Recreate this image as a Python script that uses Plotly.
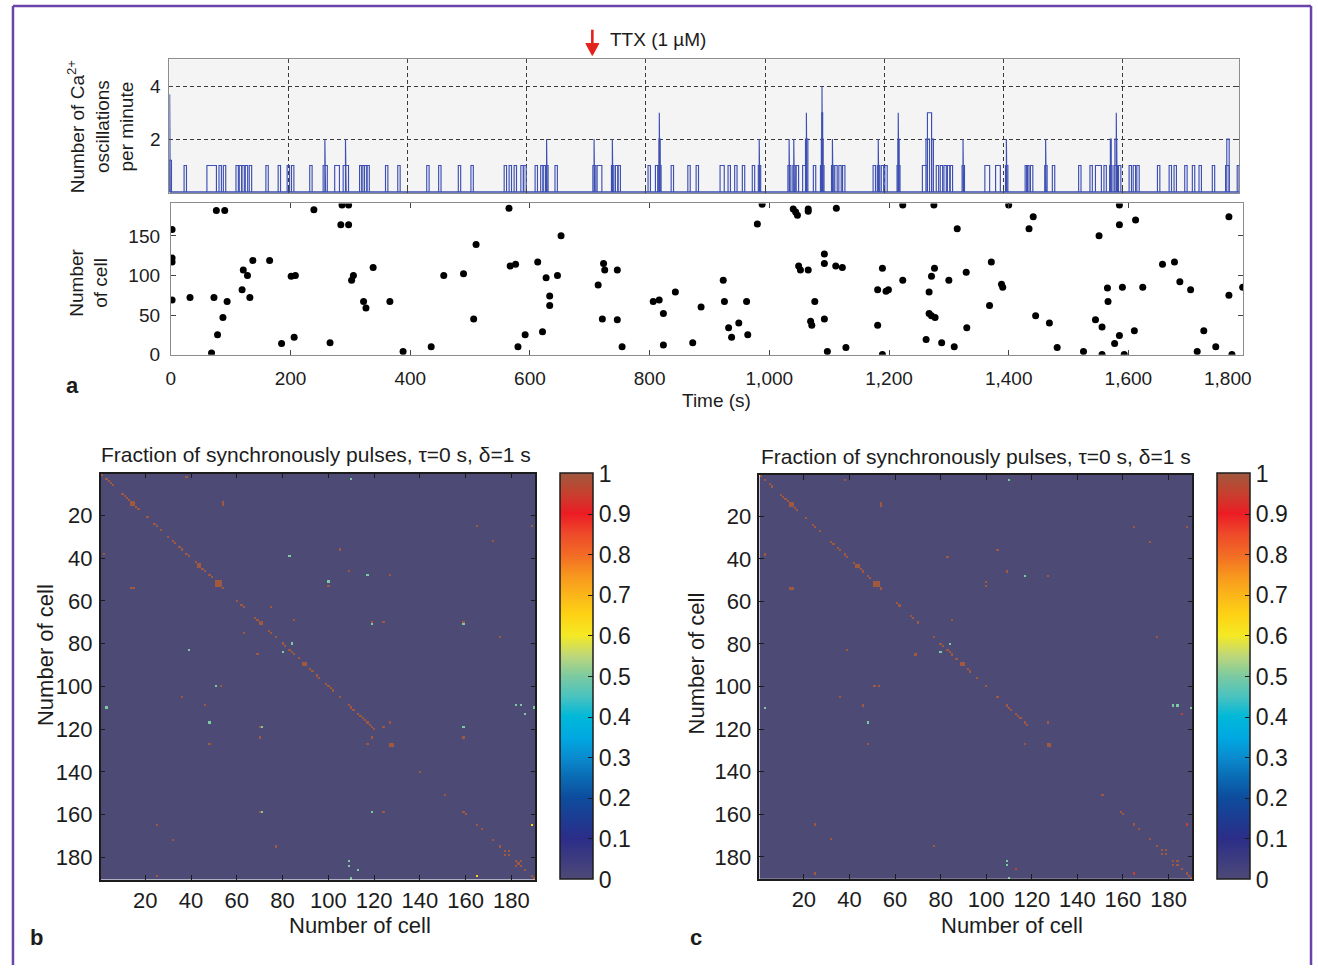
import numpy as np
import plotly.graph_objects as go

W, H = 1318, 972
FONT = "Liberation Sans, Arial, sans-serif"
INK = "#1c1c1c"

# ---------------- DATA ----------------
# Panel a (top): oscillation-rate trace as pulses: (centre time s, height, width s)
rate_pulses = [
    (1, 3.7, 1.0), (1.5, 1.2, 4),
    (26.7, 1, 4), (71, 1, 16), (85.3, 1, 4), (92.6, 1, 4),
    (113.8, 1, 4), (119.3, 1, 4), (123.8, 1, 4), (129.4, 1, 4), (136.1, 1, 4),
    (164, 1, 4), (184.6, 1, 4), (199.7, 1, 4), (207, 1, 4), (237.6, 1, 4),
    (261.6, 1, 7), (261.6, 2, 1.2), (281.5, 1, 8), (296.2, 1, 9), (296.2, 2, 1.2),
    (321.3, 1, 4), (325, 1, 4), (329.6, 1, 4), (333.6, 1, 4),
    (364.8, 1, 4), (385.4, 1, 4), (434, 1, 4), (454, 1, 4), (487, 1, 4), (508.2, 1, 4),
    (564, 1, 4), (572.3, 1, 4), (580.7, 1, 4), (592, 1, 4), (597, 1, 4),
    (615.9, 1, 4), (625.3, 1, 4), (629.2, 1, 4), (633.7, 1, 4), (633.7, 2, 1), (649.3, 1, 4),
    (713.4, 1, 5), (713.4, 2, 1), (722, 1, 8), (744.1, 1, 4), (744.1, 2, 1), (750.8, 1, 4), (755.1, 1, 4),
    (805.5, 1, 4), (817.9, 1, 4), (822.9, 1, 5), (822.9, 2, 2), (822.9, 3, 1),
    (844.3, 1, 4), (872.3, 1, 4), (886.2, 1, 4),
    (927.9, 1, 7), (939.8, 1, 4), (950.9, 1, 4), (963.8, 1, 4), (980.5, 1, 4), (990.6, 1, 4), (990.6, 2, 1),
    (1040.8, 1, 5), (1040.8, 2, 1), (1048.6, 1, 4), (1048.6, 2, 1), (1054.2, 1, 4), (1066, 1, 6),
    (1069.8, 2, 4), (1069.8, 3, 1), (1083, 1, 4), (1095.9, 1, 6), (1095.9, 2, 3), (1095.9, 3, 1.5),
    (1095.9, 4, 0.8), (1113.5, 1, 4), (1113.5, 2, 1), (1119, 1, 4), (1125.8, 1, 4), (1132, 1, 4),
    (1183.3, 1, 4), (1190.4, 1, 4), (1190.4, 2, 1), (1197, 1, 4), (1203, 1, 4),
    (1224, 1, 5), (1224, 2, 2), (1224, 3, 1),
    (1268, 1, 8), (1273, 2, 6), (1276, 3, 7), (1281, 2, 3), (1289.3, 1, 4), (1296, 1, 4),
    (1302.2, 1, 4), (1308, 1, 4), (1312.7, 1, 4), (1332.7, 1, 4), (1332.7, 2, 1),
    (1372.9, 1, 8), (1390.9, 1, 8), (1405.5, 1, 4), (1405.5, 2, 1),
    (1438.5, 1, 4), (1441, 1, 4), (1447.4, 1, 4), (1471.4, 1, 4), (1471.4, 2, 1), (1484.2, 1, 4),
    (1528.3, 1, 4), (1547.3, 1, 4), (1559.5, 1, 10), (1570.8, 1, 4), (1580.3, 1, 4), (1580.3, 2, 1.5),
    (1588.7, 1, 6), (1588.7, 2, 3), (1590, 3, 1), (1595.2, 1, 4),
    (1613, 1, 4), (1619.9, 1, 4), (1626, 1, 4),
    (1660.6, 1, 4), (1680.2, 1, 4), (1688.5, 1, 4), (1706.4, 1, 4), (1719.2, 1, 4), (1730.4, 1, 4),
    (1752.7, 1, 4), (1776, 1, 6), (1777, 2, 4), (1794, 1, 3),
]

# Panel a (bottom): raster of events (time s, cell number)
raster_events = [
    (2, 158), (2, 122), (2, 117), (2, 69), (76, 182), (90, 182), (32, 72), (72, 72), (94, 67),
    (87, 47), (78, 25), (68, 2), (119, 82), (121, 107), (128, 100), (132, 72), (137, 119),
    (165, 119), (185, 14), (201, 99), (208, 100), (206, 22), (239, 183), (266, 15),
    (286, 189), (297, 189), (284, 164), (297, 164), (302, 94), (305, 100), (322, 67), (326, 59),
    (338, 110), (366, 67), (388, 4), (435, 10), (456, 100), (489, 102), (510, 139), (506, 45),
    (565, 185), (567, 112), (576, 114), (580, 10), (592, 25), (613, 117), (621, 29), (627, 97),
    (633, 74), (633, 62), (646, 100), (652, 150), (714, 88), (723, 115), (725, 107), (721, 45),
    (746, 107), (746, 44), (754, 10), (806, 67), (816, 69), (843, 79), (823, 52), (823, 12),
    (872, 15), (886, 60), (923, 94), (925, 67), (932, 34), (937, 22), (949, 40), (962, 67),
    (964, 25), (980, 165), (988, 190), (1040, 184), (1044, 180), (1047, 176), (1065, 184),
    (1065, 181), (1112, 185), (1049, 112), (1052, 107), (1065, 107), (1092, 127), (1092, 115),
    (1111, 112), (1122, 110), (1076, 67), (1069, 42), (1071, 37), (1092, 45), (1097, 4),
    (1128, 9), (1181, 82), (1189, 109), (1195, 80), (1199, 82), (1181, 37), (1189, 0),
    (1223, 189), (1275, 189), (1400, 189), (1585, 189), (1223, 94), (1271, 99), (1276, 109),
    (1267, 79), (1267, 52), (1271, 49), (1277, 47), (1300, 94), (1314, 159), (1329, 104),
    (1330, 34), (1262, 19), (1288, 15), (1309, 10), (1371, 117), (1368, 62), (1388, 89),
    (1390, 85), (1434, 159), (1441, 174), (1445, 49), (1468, 40), (1481, 9), (1525, 4),
    (1545, 44), (1556, 35), (1551, 150), (1556, 0), (1565, 84), (1566, 67), (1577, 14),
    (1585, 24), (1585, 164), (1612, 170), (1590, 85), (1610, 30), (1593, 0), (1624, 85),
    (1657, 114), (1677, 117), (1686, 92), (1704, 82), (1726, 30), (1715, 4), (1746, 10),
    (1768, 174), (1768, 75), (1791, 85), (1773, 0),
]

time_tickvals = [0, 200, 400, 600, 800, 1000, 1200, 1400, 1600]
time_ticktext = ["0", "200", "400", "600", "800", "1,000", "1,200", "1,400", "1,600"]
time_last_label = "1,800"
rate_tickvals = [2, 4]
cell_tickvals_raster = [0, 50, 100, 150]
ttx_time = 710

# Panels b, c: synchrony matrices (190 cells)
n_cells = 190
cell_ticks = [20, 40, 60, 80, 100, 120, 140, 160, 180]
cbar_ticks = [0, 0.1, 0.2, 0.3, 0.4, 0.5, 0.6, 0.7, 0.8, 0.9, 1]
cbar_text = ["0", "0.1", "0.2", "0.3", "0.4", "0.5", "0.6", "0.7", "0.8", "0.9", "1"]

diag_b = [1, 3, 4, 5, 6, 10, 11, 12, 13, 16, 17, 21, 24, 25, 27, 30, 32, 33, 35, 36, 38, 39, 42,
          45, 46, 48, 49, 54, 60, 62, 63, 68, 69, 74, 75, 77, 80, 81, 83, 84, 85, 87, 92, 93, 95,
          96, 99, 100, 101, 102, 105, 109, 110, 111, 113, 114, 115, 116, 117, 118, 119, 120, 140,
          151, 159, 160, 165, 167, 172, 175, 177, 179, 182, 183, 184, 186, 189, 190]
blocks_b = [(14, 2), (43, 2), (51, 3), (70, 2), (89, 2), (127, 2)]
pairs_b = [(2, 38, 1), (14, 54, 1), (15, 54, 1), (39, 83, 0.5), (80, 84, 0.5), (63, 75, 1),
           (69, 85, 1), (51, 100, 0.5), (53, 100, 1), (36, 105, 1), (46, 109, 1), (48, 117, 0.5),
           (48, 127, 1), (117, 127, 1), (3, 110, 0.5), (110, 190, 0.5), (109, 182, 0.5),
           (109, 184, 0.5), (113, 186, 0.5), (25, 165, 1), (32, 172, 1), (77, 175, 1),
           (25, 189, 1), (165, 189, 0.65), (71, 119, 0.5), (71, 159, 0.5), (119, 159, 0.5),
           (70, 119, 1), (70, 159, 1), (70, 124, 1), (119, 124, 1), (124, 159, 1),
           (177, 179, 1), (182, 184, 1)]

diag_c = [1, 3, 5, 6, 10, 11, 12, 13, 16, 17, 21, 24, 25, 27, 32, 33, 35, 36, 38, 39, 42, 45, 46,
          48, 49, 54, 61, 62, 67, 68, 70, 77, 80, 81, 83, 84, 85, 87, 92, 93, 96, 100, 105, 109,
          110, 111, 113, 114, 115, 117, 118, 151, 159, 160, 165, 167, 172, 175, 177, 179, 182,
          184, 186, 188, 189, 190]
blocks_c = [(14, 2), (43, 2), (51, 3), (89, 2), (127, 2)]
pairs_c = [(3, 38, 1), (14, 54, 1), (15, 54, 1), (39, 83, 1), (80, 84, 0.5), (69, 85, 1),
           (51, 100, 1), (53, 100, 1), (36, 105, 1), (46, 109, 1), (48, 117, 0.5), (48, 127, 1),
           (117, 127, 1), (3, 110, 0.5), (110, 190, 0.5), (109, 182, 0.5), (109, 184, 0.5),
           (113, 186, 0.95), (25, 165, 1), (32, 172, 1), (77, 175, 1), (25, 188, 1),
           (165, 188, 0.95), (177, 179, 1), (182, 184, 1)]

# ---------------- STYLE ----------------
jet_muted = [
    [0.00, "#4d4a76"], [0.05, "#3c3b80"], [0.10, "#2b2d88"], [0.20, "#0d4c9d"],
    [0.25, "#0a6bb4"], [0.30, "#0a8ccf"], [0.35, "#00a9e2"], [0.40, "#00b8d8"],
    [0.45, "#4bc3c0"], [0.50, "#7ccaa0"], [0.55, "#bfd77a"], [0.60, "#f4e924"],
    [0.65, "#fdd314"], [0.70, "#fbb51a"], [0.75, "#f7941e"], [0.80, "#f26a25"],
    [0.85, "#ee4a2a"], [0.90, "#ec1c24"], [0.95, "#c6402e"], [1.00, "#a0583f"],
]


def fx(p):
    return p / W


def fy(p):
    return 1 - p / H


def build_matrix(diag, blocks, pairs):
    z = np.zeros((n_cells, n_cells))
    for i in diag:
        z[i - 1, i - 1] = 1.0
    for s, n in blocks:
        z[s - 1:s - 1 + n, s - 1:s - 1 + n] = 1.0
    for i, j, v in pairs:
        z[i - 1, j - 1] = v
        z[j - 1, i - 1] = v
    return z


# pulses -> outline polyline
px_, py_ = [], []
for t, h, w in rate_pulses:
    a, b = max(t - w / 2, 0), t + w / 2
    px_ += [a, a, b, b, None]
    py_ += [0, h, h, 0, None]

fig = go.Figure()
fig.add_trace(go.Scatter(x=[0, 1796], y=[0, 0], mode="lines",
                         line=dict(color="#3d4fb3", width=1.4), xaxis="x", yaxis="y", hoverinfo="skip"))
fig.add_trace(go.Scatter(x=px_, y=py_, mode="lines", line=dict(color="#3d4fb3", width=1.15),
                         xaxis="x", yaxis="y", hoverinfo="skip"))

fig.add_trace(go.Scatter(x=[e[0] for e in raster_events], y=[e[1] for e in raster_events],
                         mode="markers", marker=dict(color="black", size=7),
                         xaxis="x2", yaxis="y2", hoverinfo="skip"))

cells = list(range(1, n_cells + 1))
for zmat, xa, ya, cbx in [(build_matrix(diag_b, blocks_b, pairs_b), "x3", "y3", 557),
                          (build_matrix(diag_c, blocks_c, pairs_c), "x4", "y4", 1217)]:
    fig.add_trace(go.Heatmap(
        z=zmat, x=cells, y=cells, xaxis=xa, yaxis=ya, colorscale=jet_muted, zmin=0, zmax=1,
        hoverinfo="skip",
        colorbar=dict(x=fx(cbx), xanchor="left", y=fy(683.5), yanchor="middle",
                      len=410 / H, lenmode="fraction", thickness=33, thicknessmode="pixels",
                      xpad=0, ypad=0, outlinewidth=1.5, outlinecolor=INK,
                      tickvals=cbar_ticks, ticktext=cbar_text, ticks="inside", ticklen=5,
                      tickcolor=INK, tickfont=dict(size=23, color=INK, family=FONT)),
    ))

grid_dash = "4px,3px"
ax_gray = "#8c8c8c"

layout = dict(
    width=W, height=H, margin=dict(l=0, r=0, t=0, b=0),
    paper_bgcolor="white", plot_bgcolor="white", showlegend=False,
    font=dict(family=FONT, color=INK, size=19),
    xaxis=dict(domain=[fx(165), fx(1239)], range=[0, 1796], anchor="y",
               tickvals=time_tickvals[1:], showticklabels=False, ticks="inside", ticklen=4,
               tickcolor="#444", showline=True, linecolor=ax_gray, mirror="ticks",
               showgrid=True, gridcolor="#3a3a3a", griddash=grid_dash, gridwidth=1, zeroline=False),
    yaxis=dict(domain=[fy(195), fy(60)], range=[-0.04, 5.02], anchor="x",
               tickvals=rate_tickvals, ticks="inside", ticklen=4, tickcolor="#444",
               showline=True, linecolor=ax_gray, mirror="ticks", showgrid=True,
               gridcolor="#3a3a3a", griddash=grid_dash, gridwidth=1, zeroline=False,
               tickfont=dict(size=19), ticklabelstandoff=4),
    xaxis2=dict(domain=[fx(166.5), fx(1243)], range=[0, 1792], anchor="y2",
                tickvals=time_tickvals, ticktext=time_ticktext, ticks="inside", ticklen=5,
                tickcolor="#444", showline=True, linecolor=ax_gray, mirror="ticks",
                showgrid=False, zeroline=False, tickfont=dict(size=19), ticklabelstandoff=6),
    yaxis2=dict(domain=[fy(358.5), fy(205.5)], range=[-0.25, 191], anchor="x2",
                tickvals=cell_tickvals_raster, ticks="inside", ticklen=5, tickcolor="#444",
                showline=True, linecolor=ax_gray, mirror="ticks", showgrid=False,
                zeroline=False, tickfont=dict(size=19), ticklabelstandoff=6),
)

for xa, ya, x0, x1, y0, y1 in [("xaxis3", "yaxis3", 96, 532.5, 478.5, 889),
                               ("xaxis4", "yaxis4", 757.3, 1192, 479.7, 888.3)]:
    xid, yid = xa.replace("axis", ""), ya.replace("axis", "")
    layout[xa] = dict(domain=[fx(x0), fx(x1)], range=[0.5, n_cells + 0.5], anchor=yid,
                      tickvals=cell_ticks, ticks="inside", ticklen=5, tickcolor=INK,
                      showline=True, linecolor=INK, linewidth=1.5, mirror="ticks",
                      showgrid=False, zeroline=False, tickfont=dict(size=22),
                      ticklabelstandoff=0)
    layout[ya] = dict(domain=[fy(y1), fy(y0)], range=[n_cells + 0.5, 0.5], anchor=xid,
                      tickvals=cell_ticks, ticks="inside", ticklen=5, tickcolor=INK,
                      showline=True, linecolor=INK, linewidth=1.5, mirror="ticks",
                      showgrid=False, zeroline=False, tickfont=dict(size=22),
                      ticklabelstandoff=2)

fig.update_layout(**layout)

# light gray background for the rate panel
fig.add_shape(type="rect", xref="x domain", yref="y domain", x0=0, x1=1, y0=0, y1=1,
              fillcolor="#f4f4f4", line=dict(width=0), layer="below")

# purple frame
frame = "#6a44a8"
for (x0, y0, x1, y1) in [(8, 6, 8, 975), (8, 6, 1311, 6), (1311, 6, 1311, 975)]:
    fig.add_shape(type="line", xref="paper", yref="paper", x0=fx(x0), y0=fy(y0), x1=fx(x1),
                  y1=fy(y1), line=dict(color=frame, width=2.5))

# red TTX arrow (shaft + head) at the TTX application time
red = "#e3231b"
fig.add_shape(type="line", xref="x", yref="paper", x0=ttx_time, x1=ttx_time,
              y0=fy(30), y1=fy(47), line=dict(color=red, width=2.6))
fig.add_shape(type="path", xref="paper", yref="paper",
              path=(f"M {fx(165 + ttx_time * 1074 / 1796 - 6.5)} {fy(44)} "
                    f"L {fx(165 + ttx_time * 1074 / 1796 + 6.5)} {fy(44)} "
                    f"L {fx(165 + ttx_time * 1074 / 1796)} {fy(56)} Z"),
              fillcolor=red, line=dict(color=red, width=1))

ann = []


def text(s, x, y, size=19, angle=0, bold=False, xanchor="center"):
    ann.append(dict(text=f"<b>{s}</b>" if bold else s, x=fx(x), y=fy(y), xref="paper",
                    yref="paper", showarrow=False, textangle=angle, xanchor=xanchor,
                    yanchor="middle", font=dict(size=size, color=INK, family=FONT)))


text("TTX (1 µM)", 605, 40, size=19, xanchor="left")
text("Number of Ca<sup>2+</sup><br>oscillations<br>per minute", 96, 128, size=19, angle=-90)
text("Number<br>of cell", 84, 286, size=19, angle=-90)
text(time_last_label, 1228, 382, size=19)
text("Time (s)", 714, 405, size=19)
text("a", 68, 390, size=22, bold=True)
text("b", 32, 947, size=22, bold=True)
text("c", 694, 947, size=22, bold=True)
text("Fraction of synchronously pulses, τ=0 s, δ=1 s", 312, 459, size=21)
text("Fraction of synchronously pulses, τ=0 s, δ=1 s", 975, 461, size=21)
text("Number of cell", 356, 935, size=22)
text("Number of cell", 1011, 935, size=22)
text("Number of cell", 40, 662, size=22, angle=-90)
text("Number of cell", 694, 670, size=22, angle=-90)
fig.update_layout(annotations=ann)

fig.write_html("out.html", config={"displayModeBar": False},
               post_script="document.body.style.margin='0';document.body.style.overflow='hidden';")
